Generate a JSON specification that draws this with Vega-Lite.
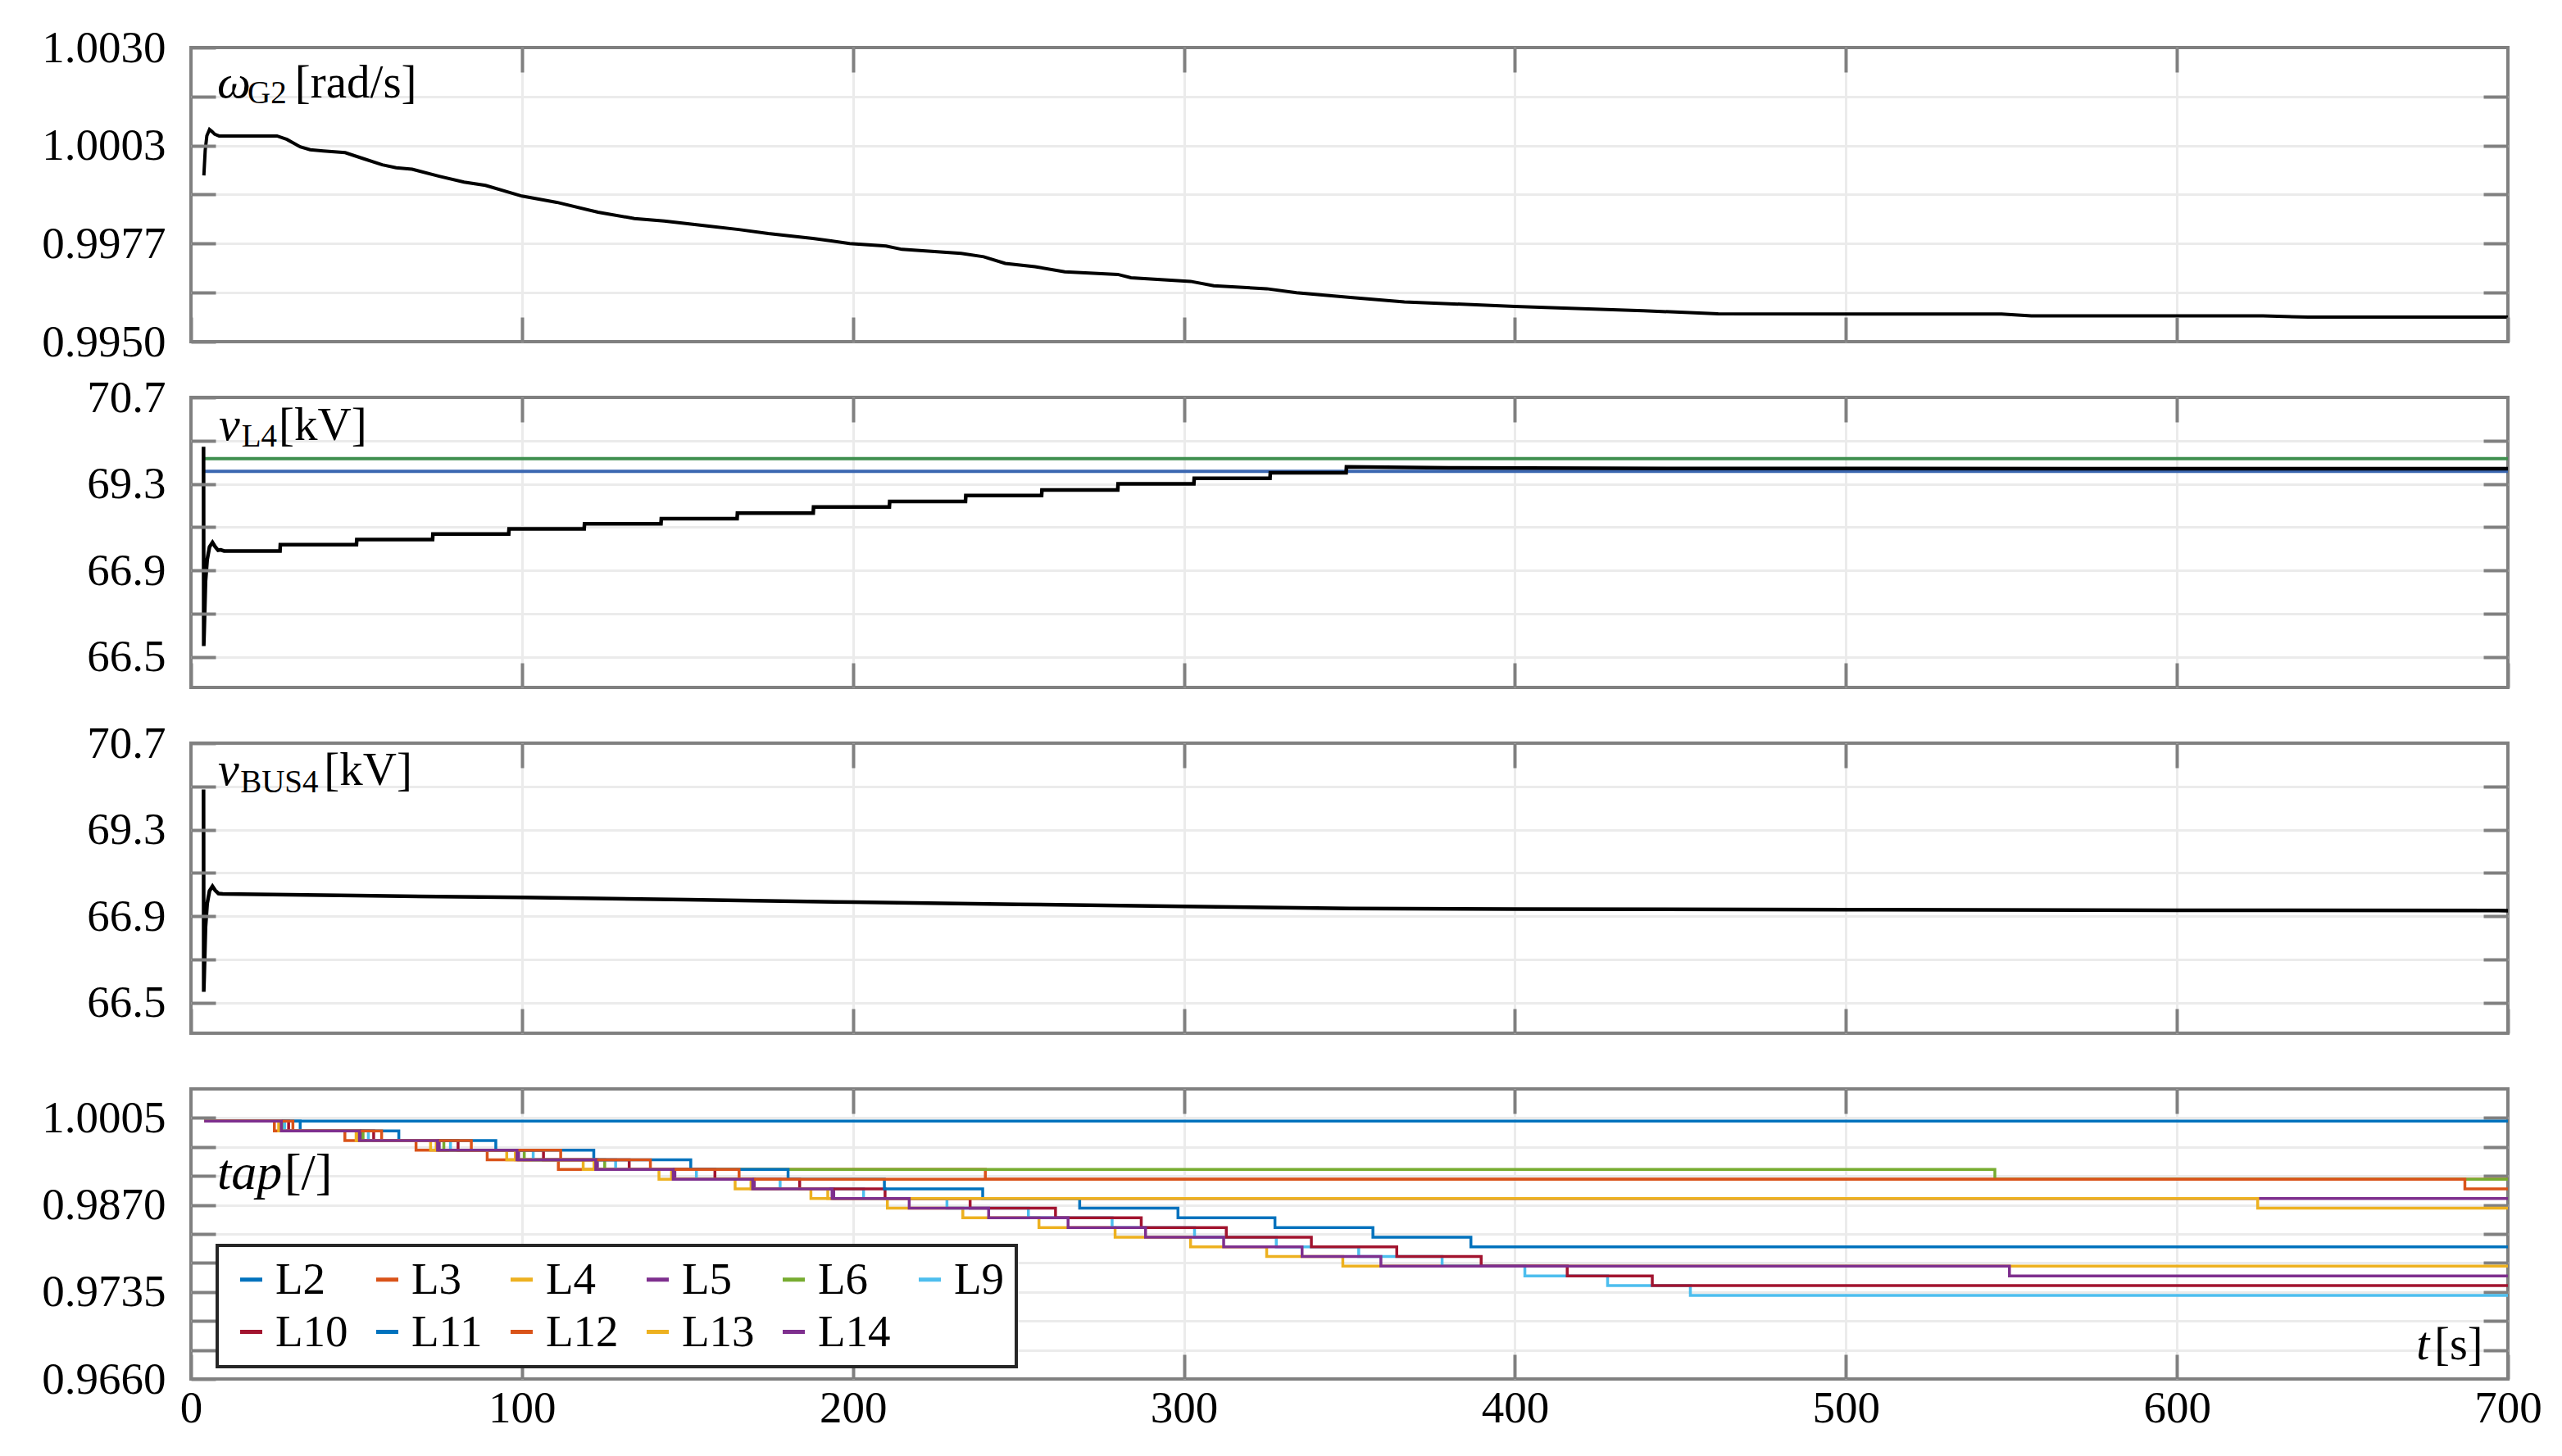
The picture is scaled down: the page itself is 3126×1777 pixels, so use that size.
{
  "$schema": "https://vega.github.io/schema/vega-lite/v6.json",
  "background": "white",
  "padding": {"left": 48, "top": 29, "right": 5, "bottom": 5},
  "spacing": 68,
  "bounds": "flush",
  "config": {
    "view": {"stroke": "#808080", "strokeWidth": 4},
    "font": "Liberation Serif",
    "axis": {
      "labelFont": "Liberation Serif", "labelFontSize": 55, "labelColor": "#000000",
      "domain": false, "title": null, "tickColor": "#808080", "tickWidth": 4, "tickSize": -30,
      "gridColor": "#ebebeb", "gridWidth": 3, "labelFlush": false, "labelOverlap": false, "labelBound": false
    },
    "legend": {"strokeWidth": 4},
    "text": {"font": "Liberation Serif", "color": "#000000", "align": "left", "baseline": "alphabetic"}
  },
  "datasets": {
    "omega": [
      {"t":3.9,"w":0.99952},{"t":4.3,"w":1.0002},{"t":4.8,"w":1.0006},{"t":5.6,"w":1.00077},{"t":6.3,"w":1.00072},{"t":7.2,"w":1.00064},{"t":8.5,"w":1.000595},
      {"t":26,"w":1.000595},{"t":29,"w":1.0005},{"t":33,"w":1.0003},{"t":36,"w":1.00022},{"t":40,"w":1.000185},{"t":46.6,"w":1.00014},{"t":52,"w":0.99998},
      {"t":57.8,"w":0.99981},{"t":62,"w":0.99973},{"t":66.8,"w":0.99969},{"t":75,"w":0.9995},{"t":82.5,"w":0.99934},{"t":89,"w":0.99925},{"t":100,"w":0.99896},
      {"t":110.5,"w":0.99879},{"t":123,"w":0.99852},{"t":134,"w":0.99835},{"t":143,"w":0.99828},{"t":156.5,"w":0.99814},{"t":165.5,"w":0.99805},{"t":174.4,"w":0.99794},
      {"t":187.9,"w":0.99781},{"t":199,"w":0.99767},{"t":210,"w":0.9976},{"t":214.8,"w":0.99751},{"t":232.7,"w":0.9974},{"t":239.5,"w":0.99731},{"t":246,"w":0.99713},
      {"t":255,"w":0.99704},{"t":264,"w":0.9969},{"t":280,"w":0.99683},{"t":284,"w":0.99674},{"t":302,"w":0.99664},{"t":309,"w":0.99652},{"t":325,"w":0.99644},
      {"t":334,"w":0.99633},{"t":351,"w":0.9962},{"t":366.6,"w":0.99608},{"t":400,"w":0.99596},{"t":438.8,"w":0.99584},{"t":461.4,"w":0.99576},{"t":547,"w":0.99575},
      {"t":556,"w":0.9957},{"t":626,"w":0.9957},{"t":639.7,"w":0.99567},{"t":700,"w":0.99567}
    ],
    "vl4": [
      {"t":3.8,"v":69.9},{"t":3.86,"v":66.55},{"t":4.0,"v":66.62},{"t":4.4,"v":66.85},{"t":4.9,"v":67.2},{"t":5.6,"v":67.55},{"t":6.5,"v":67.68},{"t":7.3,"v":67.56},
      {"t":8.2,"v":67.46},{"t":9.0,"v":67.47},{"t":10,"v":67.44},{"t":26.9,"v":67.44},{"t":27.0,"v":67.613},{"t":50,"v":67.613},{"t":50.1,"v":67.755},{"t":73,"v":67.755},
      {"t":73.1,"v":67.91},{"t":96,"v":67.91},{"t":96.1,"v":68.052},{"t":118.8,"v":68.052},{"t":118.9,"v":68.195},{"t":142,"v":68.195},{"t":142.1,"v":68.338},
      {"t":165,"v":68.338},{"t":165.1,"v":68.492},{"t":188,"v":68.492},{"t":188.1,"v":68.658},{"t":211,"v":68.658},{"t":211.1,"v":68.813},{"t":234,"v":68.813},
      {"t":234.1,"v":68.979},{"t":257,"v":68.979},{"t":257.1,"v":69.134},{"t":280,"v":69.134},{"t":280.1,"v":69.3},{"t":303,"v":69.3},{"t":303.1,"v":69.391},
      {"t":326,"v":69.391},{"t":326.1,"v":69.481},{"t":349,"v":69.481},{"t":349.1,"v":69.575},{"t":380,"v":69.56},{"t":450,"v":69.55},{"t":700,"v":69.545}
    ],
    "vref": [
      {"t":3.85,"v":69.71,"s":"upper"},{"t":700,"v":69.71,"s":"upper"},
      {"t":3.85,"v":69.505,"s":"lower"},{"t":700,"v":69.505,"s":"lower"}
    ],
    "vbus": [
      {"t":3.8,"v":69.95},{"t":3.86,"v":66.55},{"t":4.0,"v":66.62},{"t":4.4,"v":66.85},{"t":4.9,"v":67.25},{"t":5.6,"v":67.6},{"t":6.5,"v":67.73},{"t":7.3,"v":67.62},
      {"t":8.3,"v":67.53},{"t":9.6,"v":67.52},{"t":50,"v":67.47},{"t":100,"v":67.42},{"t":150,"v":67.36},{"t":200,"v":67.29},{"t":250,"v":67.23},{"t":300,"v":67.17},
      {"t":350,"v":67.115},{"t":400,"v":67.1},{"t":500,"v":67.08},{"t":600,"v":67.065},{"t":700,"v":67.055}
    ],
    "tap": [
      {"line":"L2","t":4,"tap":1.0},{"line":"L2","t":700,"tap":1.0},
      {"line":"L3","t":4,"tap":1.0},{"line":"L3","t":25.2,"tap":0.9985},{"line":"L3","t":46.5,"tap":0.997},{"line":"L3","t":68,"tap":0.9955},{"line":"L3","t":89.5,"tap":0.994},{"line":"L3","t":111,"tap":0.9925},{"line":"L3","t":240,"tap":0.991},{"line":"L3","t":700,"tap":0.991},
      {"line":"L4","t":4,"tap":1.0},{"line":"L4","t":26.5,"tap":0.9985},{"line":"L4","t":49.9,"tap":0.997},{"line":"L4","t":72.4,"tap":0.9955},{"line":"L4","t":95.4,"tap":0.994},{"line":"L4","t":118.5,"tap":0.9925},{"line":"L4","t":141.4,"tap":0.991},{"line":"L4","t":164.4,"tap":0.9895},{"line":"L4","t":187.3,"tap":0.988},{"line":"L4","t":210.4,"tap":0.9865},{"line":"L4","t":233.2,"tap":0.985},{"line":"L4","t":256.2,"tap":0.9835},{"line":"L4","t":279.2,"tap":0.982},{"line":"L4","t":302,"tap":0.9805},{"line":"L4","t":325,"tap":0.979},{"line":"L4","t":348,"tap":0.9775},{"line":"L4","t":700,"tap":0.9775},
      {"line":"L5","t":4,"tap":1.0},{"line":"L5","t":27.8,"tap":0.9985},{"line":"L5","t":51.4,"tap":0.997},{"line":"L5","t":75,"tap":0.9955},{"line":"L5","t":99,"tap":0.994},{"line":"L5","t":122.8,"tap":0.9925},{"line":"L5","t":146.2,"tap":0.991},{"line":"L5","t":170.2,"tap":0.9895},{"line":"L5","t":194.2,"tap":0.988},{"line":"L5","t":700,"tap":0.988},
      {"line":"L6","t":4,"tap":1.0},{"line":"L6","t":27.9,"tap":0.9985},{"line":"L6","t":52,"tap":0.997},{"line":"L6","t":76.4,"tap":0.9955},{"line":"L6","t":100.7,"tap":0.994},{"line":"L6","t":125,"tap":0.9925},{"line":"L6","t":545,"tap":0.991},{"line":"L6","t":700,"tap":0.991},
      {"line":"L9","t":4,"tap":1.0},{"line":"L9","t":28.3,"tap":0.9985},{"line":"L9","t":53.6,"tap":0.997},{"line":"L9","t":78.4,"tap":0.9955},{"line":"L9","t":103.4,"tap":0.994},{"line":"L9","t":128.3,"tap":0.9925},{"line":"L9","t":152.7,"tap":0.991},{"line":"L9","t":178,"tap":0.9895},{"line":"L9","t":203.2,"tap":0.988},{"line":"L9","t":228.4,"tap":0.9865},{"line":"L9","t":253,"tap":0.985},{"line":"L9","t":278.3,"tap":0.9835},{"line":"L9","t":303.2,"tap":0.982},{"line":"L9","t":327.9,"tap":0.9805},{"line":"L9","t":352.8,"tap":0.979},{"line":"L9","t":378,"tap":0.9775},{"line":"L9","t":403,"tap":0.976},{"line":"L9","t":428,"tap":0.9745},{"line":"L9","t":453,"tap":0.9732},{"line":"L9","t":700,"tap":0.9732},
      {"line":"L10","t":4,"tap":1.0},{"line":"L10","t":29.5,"tap":0.9985},{"line":"L10","t":55.2,"tap":0.997},{"line":"L10","t":80.7,"tap":0.9955},{"line":"L10","t":106.5,"tap":0.994},{"line":"L10","t":132.4,"tap":0.9925},{"line":"L10","t":158.3,"tap":0.991},{"line":"L10","t":183.9,"tap":0.9895},{"line":"L10","t":209.7,"tap":0.988},{"line":"L10","t":235.4,"tap":0.9865},{"line":"L10","t":261.2,"tap":0.985},{"line":"L10","t":287.1,"tap":0.9835},{"line":"L10","t":312.8,"tap":0.982},{"line":"L10","t":338.5,"tap":0.9805},{"line":"L10","t":364.3,"tap":0.979},{"line":"L10","t":389.8,"tap":0.9775},{"line":"L10","t":415.8,"tap":0.976},{"line":"L10","t":441.5,"tap":0.9745},{"line":"L10","t":700,"tap":0.9745},
      {"line":"L11","t":4,"tap":1.0},{"line":"L11","t":33,"tap":0.9985},{"line":"L11","t":62.8,"tap":0.997},{"line":"L11","t":92.1,"tap":0.9955},{"line":"L11","t":121.7,"tap":0.994},{"line":"L11","t":151,"tap":0.9925},{"line":"L11","t":180.4,"tap":0.991},{"line":"L11","t":209.5,"tap":0.9895},{"line":"L11","t":239.2,"tap":0.988},{"line":"L11","t":268.5,"tap":0.9865},{"line":"L11","t":298.2,"tap":0.985},{"line":"L11","t":327.5,"tap":0.9835},{"line":"L11","t":357.1,"tap":0.982},{"line":"L11","t":386.7,"tap":0.9805},{"line":"L11","t":700,"tap":0.9805},
      {"line":"L12","t":4,"tap":1.0},{"line":"L12","t":30.8,"tap":0.9985},{"line":"L12","t":57.6,"tap":0.997},{"line":"L12","t":84.7,"tap":0.9955},{"line":"L12","t":111.7,"tap":0.994},{"line":"L12","t":138.8,"tap":0.9925},{"line":"L12","t":165.6,"tap":0.991},{"line":"L12","t":687,"tap":0.9895},{"line":"L12","t":700,"tap":0.9895},
      {"line":"L13","t":4,"tap":1.0},{"line":"L13","t":27,"tap":0.9985},{"line":"L13","t":50.6,"tap":0.997},{"line":"L13","t":74.1,"tap":0.9955},{"line":"L13","t":98,"tap":0.994},{"line":"L13","t":121.8,"tap":0.9925},{"line":"L13","t":145.2,"tap":0.991},{"line":"L13","t":169.2,"tap":0.9895},{"line":"L13","t":192.4,"tap":0.988},{"line":"L13","t":624.4,"tap":0.9865},{"line":"L13","t":700,"tap":0.9865},
      {"line":"L14","t":4,"tap":1.0},{"line":"L14","t":27.3,"tap":0.9985},{"line":"L14","t":50.9,"tap":0.997},{"line":"L14","t":74.5,"tap":0.9955},{"line":"L14","t":98.5,"tap":0.994},{"line":"L14","t":122.3,"tap":0.9925},{"line":"L14","t":145.7,"tap":0.991},{"line":"L14","t":169.7,"tap":0.9895},{"line":"L14","t":193.7,"tap":0.988},{"line":"L14","t":217,"tap":0.9865},{"line":"L14","t":241,"tap":0.985},{"line":"L14","t":265,"tap":0.9835},{"line":"L14","t":288.4,"tap":0.982},{"line":"L14","t":312,"tap":0.9805},{"line":"L14","t":335.7,"tap":0.979},{"line":"L14","t":359.5,"tap":0.9775},{"line":"L14","t":549.4,"tap":0.976},{"line":"L14","t":700,"tap":0.976}
    ]
  },
  "resolve": {"scale": {"x": "independent", "y": "independent", "color": "independent"}, "legend": {"color": "independent"}},
  "vconcat": [
    {
      "width": 2827, "height": 359,
      "layer": [
        {"data": {"name": "omega"}, "mark": {"type": "line", "color": "#000000", "strokeWidth": 4},
         "encoding": {
           "x": {"field": "t", "type": "quantitative", "scale": {"domain": [0, 700], "nice": false, "zero": false},
                 "axis": {"orient": "bottom", "values": [0,100,200,300,400,500,600,700], "labels": false, "grid": false, "zindex": 1}},
           "y": {"field": "w", "type": "quantitative", "scale": {"domain": [0.995, 1.003], "nice": false, "zero": false},
                 "axis": {"orient": "left", "values": [0.995, 0.9963333, 0.9976667, 0.999, 1.0003333, 1.0016667, 1.003], "format": ".4f",
                          "labelExpr": "indexof([0.995, 0.9976667, 1.0003333, 1.003], datum.value) >= 0 ? datum.label : ''",
                          "grid": false, "labelPadding": 61, "zindex": 1}}
         }},
        {"data": {"name": "omega"}, "mark": {"type": "point", "opacity": 0},
         "encoding": {
           "x": {"field": "t", "type": "quantitative", "axis": {"orient": "top", "values": [100,200,300,400,500,600], "labels": false, "grid": true, "zindex": 0}},
           "y": {"field": "w", "type": "quantitative", "axis": {"orient": "right", "values": [0.9963333, 0.9976667, 0.999, 1.0003333, 1.0016667], "labels": false, "grid": true, "zindex": 0}}
         }},
        {"data": {"values": [{}]}, "mark": {"type": "text", "text": "ω", "fontStyle": "italic", "fontSize": 58},
         "encoding": {"x": {"datum": 7.9, "type": "quantitative", "axis": null}, "y": {"datum": 1.00164, "type": "quantitative", "axis": null}}},
        {"data": {"values": [{}]}, "mark": {"type": "text", "text": "G2", "fontSize": 39},
         "encoding": {"x": {"datum": 17.1, "type": "quantitative", "axis": null}, "y": {"datum": 1.00148, "type": "quantitative", "axis": null}}},
        {"data": {"values": [{}]}, "mark": {"type": "text", "text": "[rad/s]", "fontSize": 57},
         "encoding": {"x": {"datum": 31.4, "type": "quantitative", "axis": null}, "y": {"datum": 1.00164, "type": "quantitative", "axis": null}}}
      ],
      "resolve": {"axis": {"x": "independent", "y": "independent"}}
    },
    {
      "width": 2827, "height": 354,
      "layer": [
        {"data": {"name": "vref"}, "transform": [{"filter": "datum.s === 'upper'"}], "mark": {"type": "line", "color": "#3f8f4f", "strokeWidth": 4},
         "encoding": {
           "x": {"field": "t", "type": "quantitative", "scale": {"domain": [0, 700], "nice": false, "zero": false},
                 "axis": {"orient": "bottom", "values": [0,100,200,300,400,500,600,700], "labels": false, "grid": false, "zindex": 1}},
           "y": {"field": "v", "type": "quantitative", "scale": {"domain": [66.359, 66.5, 66.9, 69.3, 70.7], "range": [354, 316.7, 211.2, 105.6, 0], "nice": false, "zero": false},
                 "axis": {"orient": "left", "values": [66.5, 66.7, 66.9, 68.1, 69.3, 70.0, 70.7], "format": ".1f",
                          "labelExpr": "indexof([66.5, 66.9, 69.3, 70.7], datum.value) >= 0 ? datum.label : ''",
                          "grid": false, "labelPadding": 61, "zindex": 1}}
         }},
        {"data": {"name": "vref"}, "transform": [{"filter": "datum.s === 'lower'"}], "mark": {"type": "line", "color": "#3b67b1", "strokeWidth": 4},
         "encoding": {
           "x": {"field": "t", "type": "quantitative", "axis": {"orient": "top", "values": [100,200,300,400,500,600], "labels": false, "grid": true, "zindex": 0}},
           "y": {"field": "v", "type": "quantitative", "axis": {"orient": "right", "values": [66.5, 66.7, 66.9, 68.1, 69.3, 70.0], "labels": false, "grid": true, "zindex": 0}}
         }},
        {"data": {"name": "vl4"}, "mark": {"type": "line", "color": "#000000", "strokeWidth": 4.5},
         "encoding": {
           "x": {"field": "t", "type": "quantitative", "axis": null},
           "y": {"field": "v", "type": "quantitative", "axis": null}
         }},
        {"data": {"values": [{}]}, "mark": {"type": "text", "text": "v", "fontStyle": "italic", "fontSize": 58},
         "encoding": {"x": {"datum": 8.4, "type": "quantitative", "axis": null}, "y": {"datum": 70.01, "type": "quantitative", "axis": null}}},
        {"data": {"values": [{}]}, "mark": {"type": "text", "text": "L4", "fontSize": 39},
         "encoding": {"x": {"datum": 15.3, "type": "quantitative", "axis": null}, "y": {"datum": 69.9, "type": "quantitative", "axis": null}}},
        {"data": {"values": [{}]}, "mark": {"type": "text", "text": "[kV]", "fontSize": 57},
         "encoding": {"x": {"datum": 26.5, "type": "quantitative", "axis": null}, "y": {"datum": 70.01, "type": "quantitative", "axis": null}}}
      ],
      "resolve": {"axis": {"x": "independent", "y": "independent"}}
    },
    {
      "width": 2827, "height": 354,
      "layer": [
        {"data": {"name": "vbus"}, "mark": {"type": "line", "color": "#000000", "strokeWidth": 4.5},
         "encoding": {
           "x": {"field": "t", "type": "quantitative", "scale": {"domain": [0, 700], "nice": false, "zero": false},
                 "axis": {"orient": "bottom", "values": [0,100,200,300,400,500,600,700], "labels": false, "grid": false, "zindex": 1}},
           "y": {"field": "v", "type": "quantitative", "scale": {"domain": [66.359, 66.5, 66.9, 69.3, 70.7], "range": [354, 316.7, 211.2, 105.6, 0], "nice": false, "zero": false},
                 "axis": {"orient": "left", "values": [66.5, 66.7, 66.9, 68.1, 69.3, 70.0, 70.7], "format": ".1f",
                          "labelExpr": "indexof([66.5, 66.9, 69.3, 70.7], datum.value) >= 0 ? datum.label : ''",
                          "grid": false, "labelPadding": 61, "zindex": 1}}
         }},
        {"data": {"name": "vbus"}, "mark": {"type": "point", "opacity": 0},
         "encoding": {
           "x": {"field": "t", "type": "quantitative", "axis": {"orient": "top", "values": [100,200,300,400,500,600], "labels": false, "grid": true, "zindex": 0}},
           "y": {"field": "v", "type": "quantitative", "axis": {"orient": "right", "values": [66.5, 66.7, 66.9, 68.1, 69.3, 70.0], "labels": false, "grid": true, "zindex": 0}}
         }},
        {"data": {"values": [{}]}, "mark": {"type": "text", "text": "v", "fontStyle": "italic", "fontSize": 58},
         "encoding": {"x": {"datum": 8.2, "type": "quantitative", "axis": null}, "y": {"datum": 70.02, "type": "quantitative", "axis": null}}},
        {"data": {"values": [{}]}, "mark": {"type": "text", "text": "BUS4", "fontSize": 39},
         "encoding": {"x": {"datum": 14.9, "type": "quantitative", "axis": null}, "y": {"datum": 69.91, "type": "quantitative", "axis": null}}},
        {"data": {"values": [{}]}, "mark": {"type": "text", "text": "[kV]", "fontSize": 57},
         "encoding": {"x": {"datum": 40.2, "type": "quantitative", "axis": null}, "y": {"datum": 70.02, "type": "quantitative", "axis": null}}}
      ],
      "resolve": {"axis": {"x": "independent", "y": "independent"}}
    },
    {
      "width": 2827, "height": 354,
      "layer": [
        {"data": {"name": "tap"}, "mark": {"type": "line", "strokeWidth": 3.5, "interpolate": "step-after"},
         "encoding": {
           "x": {"field": "t", "type": "quantitative", "scale": {"domain": [0, 700], "nice": false, "zero": false},
                 "axis": {"orient": "bottom", "values": [0,100,200,300,400,500,600,700], "labels": true, "grid": false, "labelPadding": 39, "zindex": 1}},
           "y": {"field": "tap", "type": "quantitative", "scale": {"domain": [0.966, 0.9735, 1.005], "range": [354, 247.8, 0], "nice": false, "zero": false},
                 "axis": {"orient": "left", "values": [0.966, 0.9685, 0.971, 0.9735, 0.978, 0.9825, 0.987, 0.9915, 0.996, 1.0005], "format": ".4f",
                          "labelExpr": "indexof([0.966, 0.9735, 0.987, 1.0005], datum.value) >= 0 ? datum.label : ''",
                          "grid": false, "labelPadding": 61, "zindex": 1}},
           "color": {"field": "line", "type": "nominal",
                     "scale": {"domain": ["L2","L3","L4","L5","L6","L9","L10","L11","L12","L13","L14"],
                               "range": ["#0072BD","#D95319","#EDB120","#7E2F8E","#77AC30","#4DBEEE","#A2142F","#0072BD","#D95319","#EDB120","#7E2F8E"]},
                     "legend": {"orient": "none", "legendX": 32, "legendY": 191, "direction": "horizontal", "columns": 6, "title": null,
                                "symbolType": "stroke", "symbolStrokeWidth": 5, "symbolSize": 729,
                                "labelFont": "Liberation Serif", "labelFontSize": 55, "labelColor": "#000000", "labelOffset": 2,
                                "columnPadding": 20, "rowPadding": 8, "padding": 14,
                                "strokeColor": "#262626", "fillColor": "#ffffff", "zindex": 2}}
         }},
        {"data": {"name": "tap"}, "mark": {"type": "point", "opacity": 0},
         "encoding": {
           "x": {"field": "t", "type": "quantitative", "axis": {"orient": "top", "values": [100,200,300,400,500,600], "labels": false, "grid": true, "zindex": 0}},
           "y": {"field": "tap", "type": "quantitative", "axis": {"orient": "right", "values": [0.9685, 0.971, 0.9735, 0.978, 0.9825, 0.987, 0.9915, 0.996, 1.0005], "labels": false, "grid": true, "zindex": 0}}
         }},
        {"data": {"values": [{}]}, "mark": {"type": "text", "text": "tap", "fontStyle": "italic", "fontSize": 62},
         "encoding": {"x": {"datum": 7.9, "type": "quantitative", "axis": null}, "y": {"datum": 0.98949, "type": "quantitative", "axis": null}}},
        {"data": {"values": [{}]}, "mark": {"type": "text", "text": "[/]", "fontSize": 62},
         "encoding": {"x": {"datum": 28.2, "type": "quantitative", "axis": null}, "y": {"datum": 0.98949, "type": "quantitative", "axis": null}}},
        {"data": {"values": [{}]}, "mark": {"type": "text", "text": "t", "fontStyle": "italic", "fontSize": 58},
         "encoding": {"x": {"datum": 672.3, "type": "quantitative", "axis": null}, "y": {"datum": 0.96773, "type": "quantitative", "axis": null}}},
        {"data": {"values": [{}]}, "mark": {"type": "text", "text": "[s]", "fontSize": 56},
         "encoding": {"x": {"datum": 677.8, "type": "quantitative", "axis": null}, "y": {"datum": 0.96773, "type": "quantitative", "axis": null}}}
      ],
      "resolve": {"axis": {"x": "independent", "y": "independent"}}
    }
  ]
}
